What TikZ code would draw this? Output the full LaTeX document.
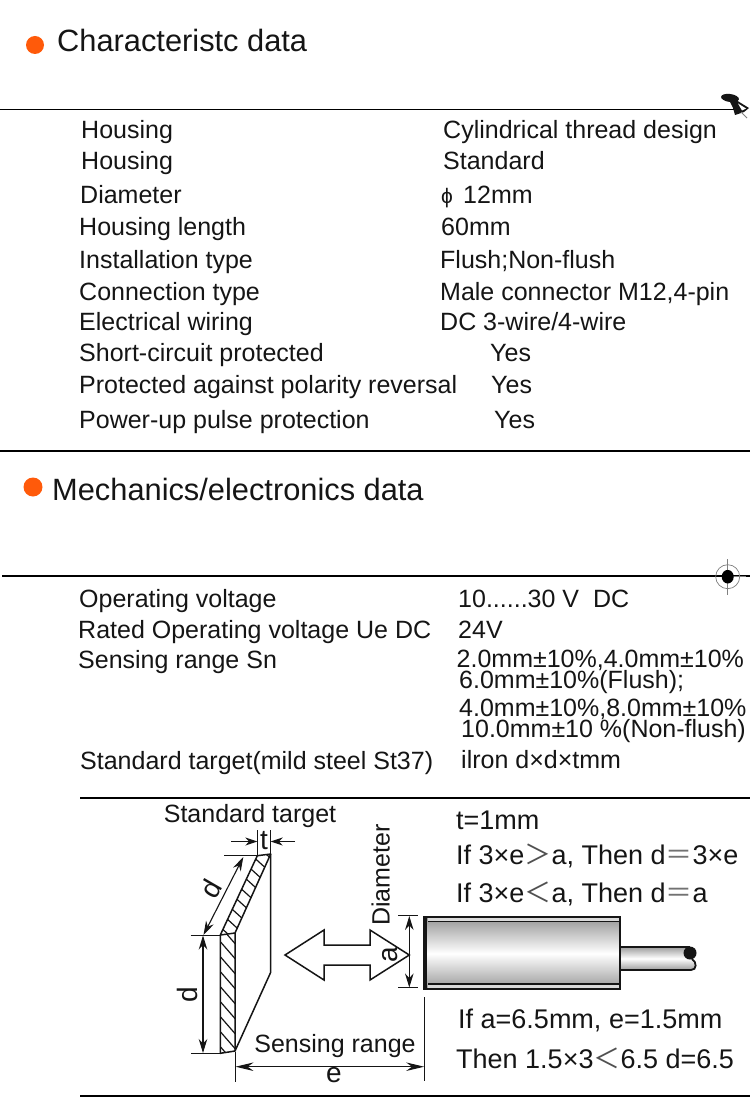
\documentclass[tikz,border=0pt]{standalone}
\usepackage{fontspec}
\setmainfont{Liberation Sans}
\newfontfamily\cjk{Noto Sans CJK SC}
\usetikzlibrary{arrows.meta}
\definecolor{bul}{HTML}{FF5A0A}
\definecolor{ink}{HTML}{151515}
\tikzset{
  txt/.style={anchor=base west,inner sep=0pt,text=ink,font=\fontsize{25}{28}\selectfont},
  note/.style={anchor=base west,inner sep=0pt,text=ink,font=\fontsize{27}{30}\selectfont},
  ltr/.style={anchor=base,inner sep=0pt,text=ink,font=\fontsize{28}{30}\selectfont},
  ttl/.style={anchor=base west,inner sep=0pt,text=ink,font=\fontsize{30.8}{34}\selectfont},
  rule/.style={draw=black,line width=1.6pt},
  part/.style={draw=ink,line width=1.5pt},
  hatch/.style={draw=ink,line width=1.2pt},
  dim/.style={draw=ink,line width=1.1pt,{Stealth[length=14pt,width=8.5pt]}-{Stealth[length=14pt,width=8.5pt]}},
  oneway/.style={draw=ink,line width=1.1pt,-{Stealth[length=12pt,width=8pt]}},
  ext/.style={draw=ink,line width=1pt},
}
\newcommand{\lt}{{\cjk\color{ink!75}＜}}
\newcommand{\gt}{{\cjk\color{ink!75}＞}}
\newcommand{\eqs}{{\cjk\color{ink!60}＝}}
\begin{document}
\begin{tikzpicture}[x=1pt,y=-1pt]
\useasboundingbox (0,0) rectangle (750,1099);
\fill[white] (0,0) rectangle (750,1099);
% titles
\fill[bul] (35,45) circle (9);
\node[ttl] (t1) at (57,52) {Characteristc data};
\fill[bul] (33,487) circle (9.5);
\node[ttl] (t2) at (52,500) {Mechanics/electronics data};
% rules
\draw[rule] (0,109.5) -- (735,109.5);
\draw[rule] (0,451) -- (750,451);
\draw[rule] (2,576) -- (750,576);
\draw[rule] (80,798) -- (750,798);
\draw[rule] (80,1096) -- (750,1096);
% pin
\fill[ink,rotate around={-8:(730,98)}] (730,98) ellipse (9 and 4);
\fill[ink] (729,100) -- (736,100) -- (749,108) -- (744,112) -- (735,115) -- (733,108) -- cycle;
\fill[white] (738,103.5) -- (746,108.5) -- (742,110.5) -- cycle;
\draw[gray,line width=.8pt] (741,112) -- (747,118);
% target mark
\draw[gray,line width=.7pt] (727.7,576.7) circle (12);
\draw[gray,line width=.7pt] (727.7,559) -- (727.7,595);
\draw[gray,line width=.7pt] (727.7,576.7) -- (746,576.7);
\fill[black] (727.7,576.7) ellipse (6 and 6.8);
% first table
\node[txt] (a1) at (81,139) {Housing};
\node[txt] (b1) at (443,139) {Cylindrical thread design};
\node[txt] (a2) at (81,170) {Housing};
\node[txt] (b2) at (443,170) {Standard};
\node[txt] (a3) at (80,204) {Diameter};
\node[txt] (b3) at (441,204) {\fontsize{21}{22}\selectfont ϕ};
\node[txt] (b3b) at (463,204) {12mm};
\node[txt] (a4) at (79,236) {Housing length};
\node[txt] (b4) at (441,236) {60mm};
\node[txt] (a5) at (79,268) {Installation type};
\node[txt] (b5) at (440,268) {Flush;Non-flush};
\node[txt] (a6) at (79,300) {Connection type};
\node[txt] (b6) at (440,300) {Male connector M12,4-pin};
\node[txt] (a7) at (79,330) {Electrical wiring};
\node[txt] (b7) at (440,330) {DC 3-wire/4-wire};
\node[txt] (a8) at (79,361) {Short-circuit protected};
\node[txt] (b8) at (490,361) {Yes};
\node[txt] (a9) at (79,393) {Protected against polarity reversal};
\node[txt] (b9) at (491,393) {Yes};
\node[txt] (a10) at (79,428) {Power-up pulse protection};
\node[txt] (b10) at (494,428) {Yes};
% second table
\node[txt] (c1) at (79,607) {Operating voltage};
\node[txt] (d1) at (458,607) {10......30 V\ \ DC};
\node[txt] (c2) at (78,638) {Rated Operating voltage Ue DC};
\node[txt] (d2) at (458,638) {24V};
\node[txt] (c3) at (78,668) {Sensing range Sn};
\node[txt] (d3) at (456.5,667) {2.0mm±10\%,4.0mm±10\%};
\node[txt] (d4) at (459,688) {6.0mm±10\%(Flush);};
\node[txt] (d5) at (459,716) {4.0mm±10\%,8.0mm±10\%};
\node[txt] (d6) at (461,737) {10.0mm±10 \%(Non-flush)};
\node[txt] (c4) at (80,769) {Standard target(mild steel St37)};
\node[txt] (d7) at (461,768) {ilron d×d×tmm};
% notes
\node[note] (n1) at (456,829) {t=1mm};
\node[note] (n2) at (456,864) {If 3×e\gt a, Then d\eqs 3×e};
\node[note] (n3) at (456,902) {If 3×e\lt a, Then d\eqs a};
\node[note] (n4) at (458,1028) {If a=6.5mm, e=1.5mm};
\node[note] (n5) at (456,1068) {Then 1.5×3\lt 6.5 d=6.5};
% target plate
\begin{scope}
\clip (220.3,935) -- (235,933) -- (235,1051) -- (220.3,1053.3) -- cycle;
\foreach \k in {0,...,8} \draw[hatch] (218,{924+\k*15}) -- (238,{947+\k*15});
\end{scope}
\begin{scope}
\clip (220.3,935) -- (257.3,855.7) -- (270.7,854) -- (235,933) -- cycle;
\foreach \k in {0,...,9} \draw[hatch] ({218+\k*5.2},{925-\k*9.6}) -- ({240+\k*5.2},{945-\k*9.6});
\end{scope}
\draw[part,line join=round] (220.3,1053.3) -- (220.3,935) -- (257.3,855.7) -- (270.7,854) -- (235,933) -- (235,1051) -- cycle;
\draw[part] (220.3,935) -- (235,933);
\draw[part,line join=round] (270.7,854) -- (270.7,972.3) -- (235,1051);
% dimensions on plate
\draw[ext] (224,855.7) -- (257.3,855.7);
\draw[ext] (190.7,935) -- (220.3,935);
\draw[ext] (191,1053.3) -- (220.3,1053.3);
\draw[ext] (257.3,830) -- (257.3,855.7);
\draw[ext] (270.7,830) -- (270.7,854);
\draw[dim] (203,935.5) -- (203,1053);
\draw[dim] (203.5,935) -- (243.3,857);
\draw[oneway] (231,841.5) -- (257.3,841.5);
\draw[oneway] (295,841.5) -- (270.7,841.5);
\node[ltr] (tl) at (264,849) {t};
\node[ltr,rotate=60] (dd) at (219,894) {d};
\node[ltr,rotate=90] (dv) at (197,995) {d};
\node[txt,anchor=base] (st) at (250,822) {Standard target};
% double arrow
\draw[part,fill=white,line join=miter] (285,955) -- (324,930) -- (324,945) -- (370,945) -- (370,930) -- (409.3,955) -- (370,980) -- (370,965) -- (324,965) -- (324,980) -- cycle;
% a dimension
\draw[ext] (398,915.7) -- (417.7,915.7);
\draw[ext] (398,987.7) -- (417.7,987.7);
\draw[dim] (409.3,916) -- (409.3,987.5);
\node[ltr,rotate=90] (al) at (397.5,955) {a};
\node[txt,anchor=base,rotate=90] (dia) at (389.5,875) {Diameter};
% sensing range
\draw[ext] (235,1052) -- (235,1082);
\draw[ext] (424.7,997) -- (424.7,1081);
\draw[draw=ink,line width=1.1pt,{Stealth[length=18pt,width=8.5pt]}-{Stealth[length=18pt,width=8.5pt]}] (235.5,1066.7) -- (424.2,1066.7);
\node[txt,anchor=base] (sr) at (335,1052) {Sensing range};
\node[ltr] (el) at (334,1082) {e};
% sensor
\shade[top color=gray!70,bottom color=gray!70,middle color=white] (620,948) rectangle (695,969);
\draw[part,line width=1.8pt] (620,947) -- (690,947);
\draw[part,line width=1.8pt] (620,970) -- (691,970) .. controls (697,970) and (697,962) .. (692,959);
\fill[ink] (690,953) circle (6.5);
\shade[top color=gray!80,bottom color=gray!80,middle color=white] (425,918) rectangle (620,989);
\fill[white!70!gray] (428,918) rectangle (619,921);
\fill[white!70!gray] (428,984.5) rectangle (619,988);
\draw[ink,line width=1.5pt] (428,921.5) -- (620,921.5);
\draw[ink,line width=1.5pt] (428,984) -- (620,984);
\draw[ink,line width=1.7pt] (424,917) rectangle (620,989);
\fill[ink] (423.3,916.2) rectangle (427,989.8);
\end{tikzpicture}
\end{document}
